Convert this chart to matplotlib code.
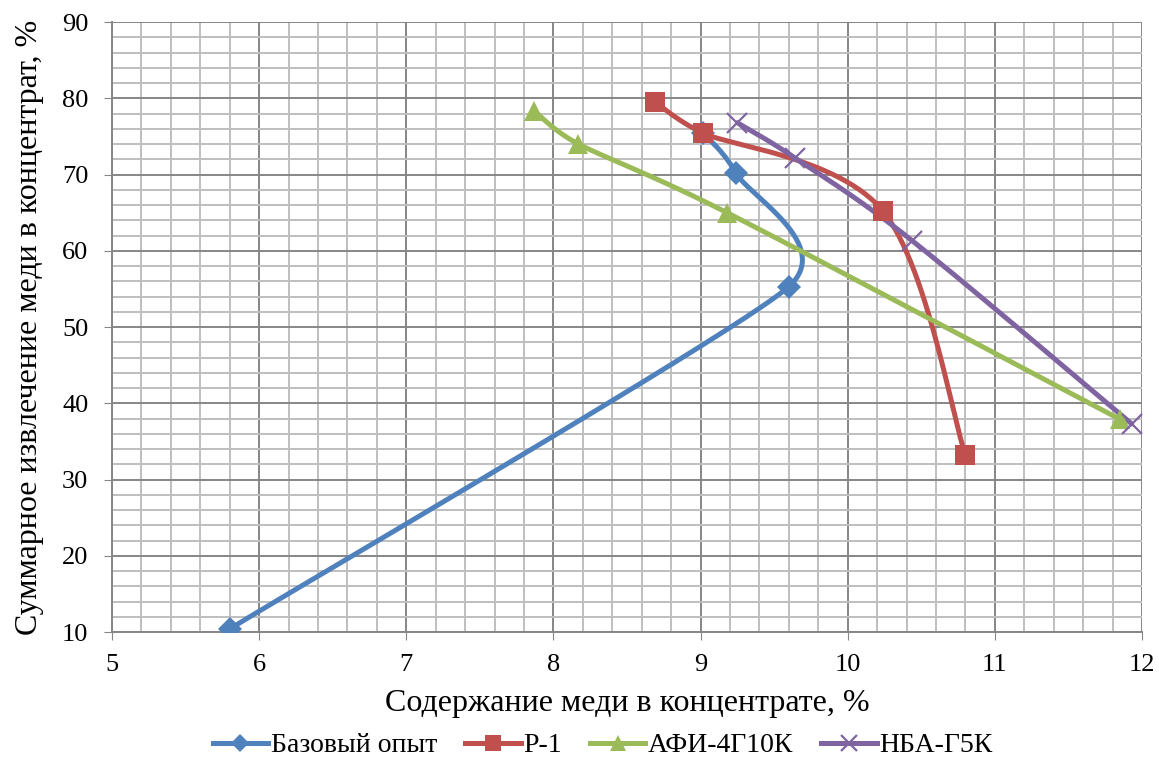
import numpy as np
import matplotlib.pyplot as plt
from matplotlib.ticker import MultipleLocator

# данные
base_x = [5.8, 9.6, 9.24, 9.02]
base_y = [10.4, 55.3, 70.2, 75.4]
r1_x = [8.69, 9.02, 10.24, 10.8]
r1_y = [79.5, 75.4, 65.2, 33.2]
afi_x = [7.87, 8.17, 9.18, 11.85]
afi_y = [78.3, 74.0, 65.0, 37.9]
nba_x = [9.25, 9.64, 10.44, 11.93]
nba_y = [76.8, 72.2, 61.3, 37.3]


def ctrl(p0, p1, p2):
    # касательная в точке p1, длина ограничена соседними отрезками
    d02 = np.linalg.norm(p2 - p0)
    lens = [d02 / 6]
    for d in (np.linalg.norm(p1 - p0), np.linalg.norm(p2 - p1)):
        if d > 0:
            lens.append(d / 2)
    return (p2 - p0) / d02 * min(lens)


def smooth(ax, xs, ys, n=60):
    # сглаженная линия как в Excel, считается в экранных координатах
    p = ax.transData.transform(np.column_stack([xs, ys]))
    q = np.vstack([p[0], p, p[-1]])
    out = []
    for i in range(1, len(q) - 2):
        p0, p1, p2, p3 = q[i - 1], q[i], q[i + 1], q[i + 2]
        c1 = p1 + ctrl(p0, p1, p2)
        c2 = p2 - ctrl(p1, p2, p3)
        t = np.linspace(0, 1, n)[:, None]
        seg = ((1 - t) ** 3 * p1 + 3 * (1 - t) ** 2 * t * c1
               + 3 * (1 - t) * t ** 2 * c2 + t ** 3 * p2)
        out.append(seg)
    out = ax.transData.inverted().transform(np.vstack(out))
    return out[:, 0], out[:, 1]


plt.rcParams['font.family'] = ['Liberation Serif', 'DejaVu Serif']

fig = plt.figure(figsize=(11.59, 7.6), dpi=100)
ax = fig.add_axes([0.0966, 0.1684, 0.8887, 0.8026])
ax.set_xlim(5, 12)
ax.set_ylim(10, 90)

series = [
    (base_x, base_y, '#4F81BD', 'D', 12, 'Базовый опыт'),
    (r1_x, r1_y, '#C0504D', 's', 15, 'Р-1'),
    (afi_x, afi_y, '#9BBB59', '^', 15, 'АФИ-4Г10К'),
    (nba_x, nba_y, '#8064A2', 'x', 14, 'НБА-Г5К'),
]
handles = []
for xs, ys, col, mk, ms, lab in series:
    sx, sy = smooth(ax, xs, ys)
    ax.plot(sx, sy, color=col, lw=3.6, solid_capstyle='round', zorder=3)
    ax.plot(xs, ys, ls='none', marker=mk, ms=ms, color=col,
            mew=1.6 if mk == 'x' else 0, zorder=4)
    h, = ax.plot([], [], color=col, lw=3.6, marker=mk, ms=ms * 0.8,
                 mew=1.6 if mk == 'x' else 0, label=lab)
    handles.append(h)

ax.xaxis.set_major_locator(MultipleLocator(1))
ax.xaxis.set_minor_locator(MultipleLocator(0.2))
ax.yaxis.set_major_locator(MultipleLocator(10))
ax.yaxis.set_minor_locator(MultipleLocator(2))
ax.grid(which='minor', color='#BFBFBF', lw=1.4)
ax.grid(which='major', color='#868686', lw=1.4)
ax.set_axisbelow(True)
for s in ['top', 'right']:
    ax.spines[s].set_visible(False)
for s in ['left', 'bottom']:
    ax.spines[s].set_color('#868686')
    ax.spines[s].set_linewidth(1.4)
ax.tick_params(which='major', length=6, color='#868686', labelsize=19)
ax.tick_params(axis='x', pad=10)
ax.tick_params(axis='y', pad=11)
ax.tick_params(which='minor', length=0)

ax.set_xlabel('Содержание меди в концентрате, %', fontsize=23, labelpad=9)
ax.set_ylabel('Суммарное извлечение меди в концентрат, %', fontsize=23, labelpad=13)

fig.legend(handles=handles, loc='center', bbox_to_anchor=(0.52, 0.019), ncol=4,
           frameon=False, fontsize=20, handlelength=2.0, handletextpad=0.1,
           columnspacing=1.0)

plt.savefig('out.png', dpi=100)
